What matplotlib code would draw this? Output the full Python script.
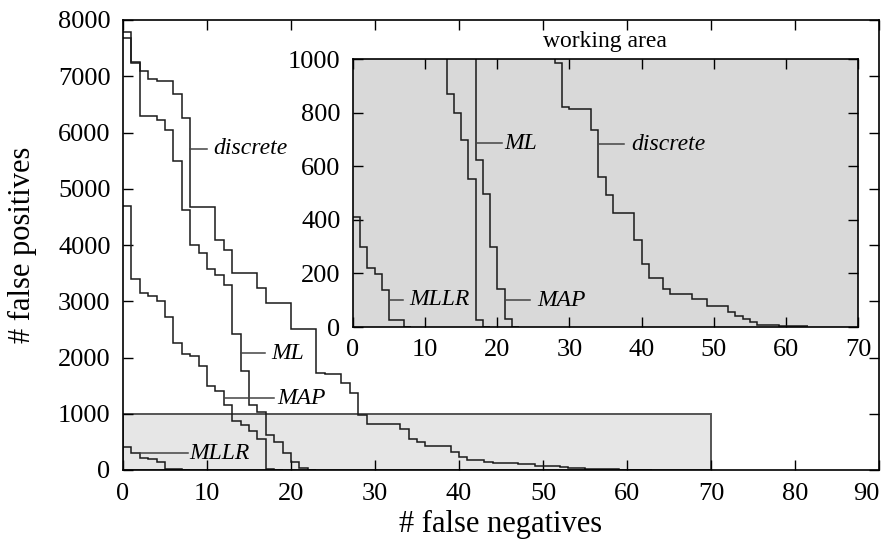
import matplotlib
matplotlib.use('Agg')
import matplotlib.pyplot as plt
from matplotlib.patches import Rectangle

plt.rcParams['font.family'] = ['Liberation Serif', 'DejaVu Serif']
plt.rcParams['font.size'] = 17

# ---- data: step curves (edges = # false negatives, values = # false positives) ----
discrete_edges = [0, 1, 2, 3, 4, 6, 7, 8, 11, 12, 13, 16, 17, 20, 23, 24, 26, 27, 28, 29, 30,
                  33, 34, 35, 36, 39, 40, 41, 43, 44, 47, 49, 52, 53, 54, 55, 56, 59, 63]
discrete_fp = [7790, 7250, 7090, 6960, 6915, 6680, 6263, 4670, 4090, 3915, 3508, 3230, 2969,
               2500, 1730, 1700, 1541, 1363, 985, 822, 815, 735, 558, 492, 425, 324, 235, 184,
               143, 125, 106, 78, 56, 40, 31, 19, 9, 4]

ml_edges = [0, 1, 2, 4, 5, 6, 7, 8, 9, 10, 11, 12, 13, 14, 15, 16, 17, 18, 19, 20, 21, 22, 23]
ml_fp = [7674, 7230, 6293, 6222, 6044, 5500, 4622, 4000, 3865, 3575, 3475, 3290, 2425, 1760,
         1150, 1035, 622, 496, 299, 140, 28, 0]

map_edges = [0, 1, 2, 3, 4, 5, 6, 7, 8, 9, 10, 11, 12, 13, 14, 15, 16, 17, 18, 19]
map_fp = [4700, 3390, 3152, 3100, 3010, 2714, 2263, 2062, 2027, 1850, 1490, 1400, 1155, 870,
          800, 697, 552, 25, 0]

mllr_edges = [0, 1, 2, 3, 4, 5, 7, 8]
mllr_fp = [411, 297, 221, 199, 137, 25, 0]

curves = [(discrete_edges, discrete_fp), (ml_edges, ml_fp),
          (map_edges, map_fp), (mllr_edges, mllr_fp)]

main_xticks = list(range(0, 91, 10))
main_yticks = list(range(0, 8001, 1000))
inset_xticks = list(range(0, 71, 10))
inset_yticks = list(range(0, 1001, 200))

# label annotations: (text, line x0, line x1, y, text x)
main_labels = [("discrete", 8.03, 10.0, 5707, 10.7),
               ("ML", 14.08, 16.85, 2074, 17.6),
               ("MAP", 12.1, 18.0, 1274, 18.4),
               ("MLLR", 2.0, 7.7, 296, 7.95)]
inset_labels = [("MLLR", 5.1, 6.9, 102, 7.8),
                ("ML", 17.2, 20.7, 685, 21.0),
                ("MAP", 21.2, 24.6, 100, 25.6),
                ("discrete", 34.1, 37.6, 681, 38.6)]

LC = '#1a1a1a'
TICK_FS = 19
LABEL_FS = 22

fig = plt.figure(figsize=(8.92, 5.43), dpi=100)

# ---- main axes ----
ax = fig.add_axes([123/892, 1-470/543, (879-123)/892, (470-20)/543])
ax.set_xlim(0, 90)
ax.set_ylim(0, 8000)
ax.set_xticks(main_xticks)
ax.set_yticks(main_yticks)
ax.tick_params(direction='in', length=7, width=1, top=True, right=True, pad=9,
               labelsize=TICK_FS, colors='black')
for s in ax.spines.values():
    s.set_linewidth(1.2)
ax.xaxis.get_major_ticks()[-1].label1.set_horizontalalignment('right')
ax.xaxis.get_major_ticks()[-1].label1.set_x(88.6)

ax.add_patch(Rectangle((0, 0), 70, 1000, facecolor='#e6e6e6', edgecolor='#555555',
                       lw=1.4, zorder=1))
for e, v in curves:
    ax.stairs(v, e, baseline=None, color=LC, lw=1.1, zorder=2)
for t, x0, x1, y, tx in main_labels:
    ax.plot([x0, x1], [y, y], color='#444444', lw=1.1, zorder=3)
    ax.text(tx, y, t, style='italic', ha='left', va='center', fontsize=17, zorder=3)

fig.text(22/892, 1-245/543, '# false positives', rotation=90, ha='center', va='center',
         fontsize=LABEL_FS)
fig.text(501/892, 1-524/543, '# false negatives', ha='center', va='center',
         fontsize=LABEL_FS)

# ---- inset ----
axin = fig.add_axes([353/892, 1-327/543, (858-353)/892, (327-59)/543])
axin.set_facecolor('#d9d9d9')
axin.set_xlim(0, 70)
axin.set_ylim(0, 1000)
axin.set_xticks(inset_xticks)
axin.set_yticks(inset_yticks)
axin.tick_params(direction='in', length=7, width=1, top=True, right=True, pad=9,
                 labelsize=TICK_FS)
for s in axin.spines.values():
    s.set_linewidth(1.2)
for e, v in curves:
    axin.stairs(v, e, baseline=None, color=LC, lw=1.1, zorder=2)
for t, x0, x1, y, tx in inset_labels:
    axin.plot([x0, x1], [y, y], color='#444444', lw=1.1, zorder=3)
    axin.text(tx, y, t, style='italic', ha='left', va='center', fontsize=17, zorder=3)

fig.text(605/892, 1-42/543, 'working area', ha='center', va='center', fontsize=17)

fig.savefig('out.png', dpi=100)
